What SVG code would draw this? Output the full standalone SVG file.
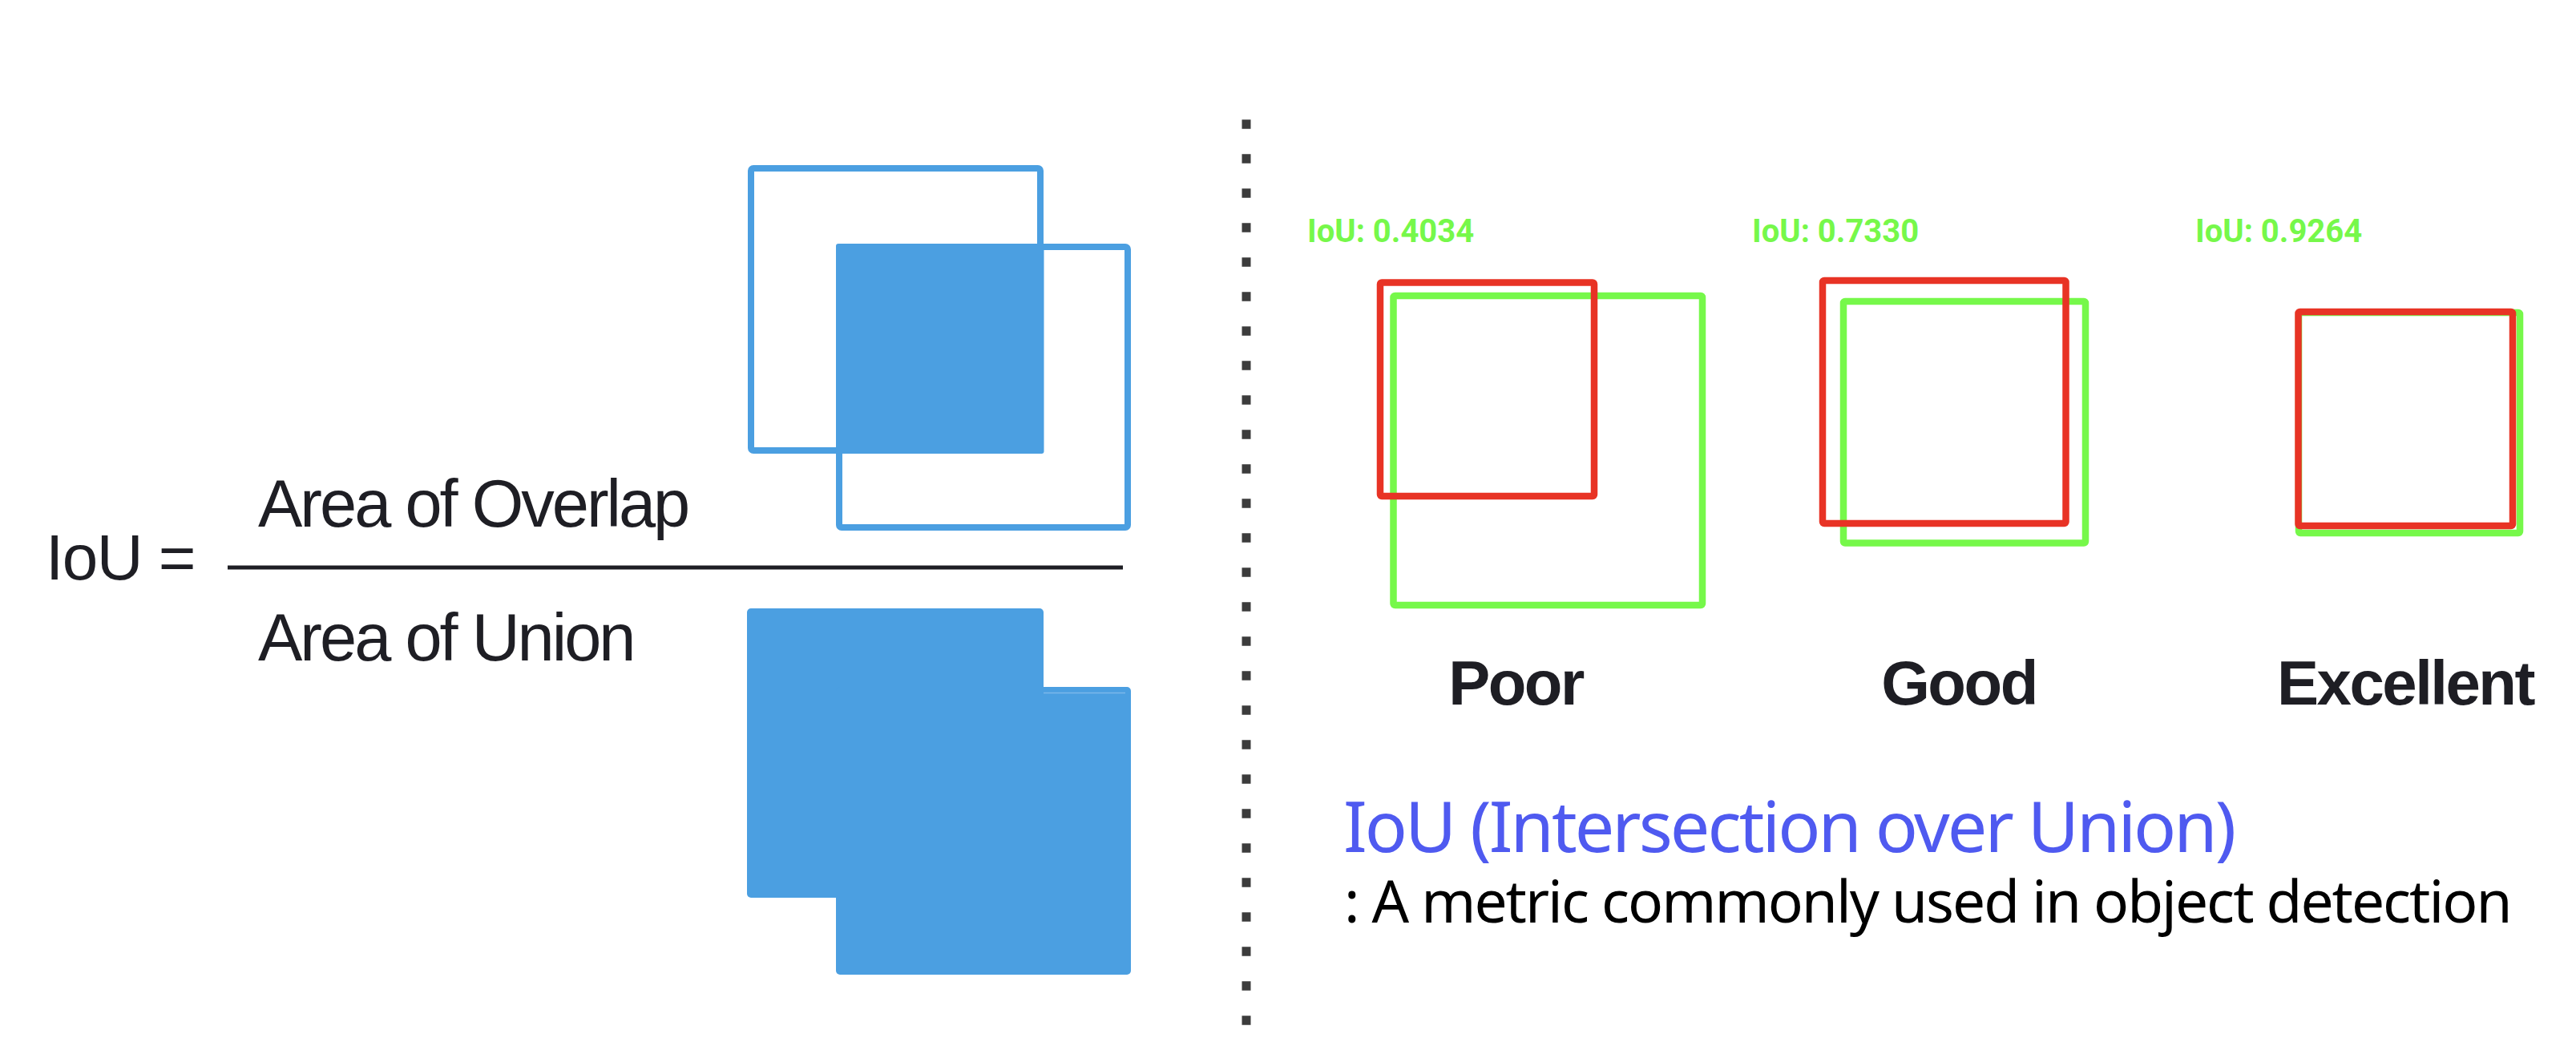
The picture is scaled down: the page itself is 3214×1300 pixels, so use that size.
<svg xmlns="http://www.w3.org/2000/svg" width="3214" height="1300" viewBox="0 0 3214 1300">
<style>
.blueOut{fill:none;stroke:#4b9fe1;stroke-width:8;stroke-linejoin:round}
.blueFill{fill:#4b9fe1}
.formula{font-family:"Liberation Sans",Arial,sans-serif;fill:#1e1e24}
.red{fill:none;stroke:#e83325;stroke-width:8.5;stroke-linejoin:round}
.green{fill:none;stroke:#76f84a;stroke-width:8.5;stroke-linejoin:round}
.iou{font-family:Roboto,"Liberation Sans",sans-serif;font-weight:bold;font-size:40px;fill:#76f84a}
.grade{font-family:"Liberation Sans",Arial,sans-serif;font-weight:bold;font-size:78px;fill:#1e1e24;text-anchor:middle;letter-spacing:-2.5px}
</style>
<rect width="3214" height="1300" fill="#ffffff"/>

<g id="formula">
  <text class="formula" x="57" y="723" font-size="80" letter-spacing="-1.5">IoU =</text>
  <text class="formula" x="322" y="657" font-size="83" letter-spacing="-3">Area of Overlap</text>
  <text class="formula" x="322" y="824" font-size="83" letter-spacing="-3">Area of Union</text>
  <line x1="284" y1="708" x2="1401" y2="708" stroke="#1e1e24" stroke-width="5"/>
</g>

<g id="overlap-icon">
  <rect class="blueOut" x="937" y="210" width="361" height="352" rx="3"/>
  <rect class="blueOut" x="1047" y="308" width="360" height="350" rx="3"/>
  <rect class="blueFill" x="1043" y="304" width="259.5" height="262" rx="3"/>
</g>

<g id="union-icon">
  <rect class="blueFill" x="932" y="759" width="370" height="361" rx="5"/>
  <rect class="blueFill" x="1043" y="857" width="368" height="359" rx="5"/>
  <line x1="1302" y1="864.5" x2="1404" y2="864.5" stroke="#7bb8ea" stroke-width="1.5"/>
</g>

<g id="connectors">
  <line x1="1555" y1="149.3" x2="1555" y2="1280" stroke="#3c3c3c" stroke-width="11" stroke-dasharray="11.4 31.6"/>
</g>

<g id="poor">
  <text class="iou" x="1631" y="302">IoU: 0.4034</text>
  <rect class="green" x="1738.5" y="369" width="385.5" height="386" rx="2"/>
  <rect class="red" x="1722" y="352.5" width="267" height="266.5" rx="2"/>
  <text class="grade" x="1891" y="879">Poor</text>
</g>

<g id="good">
  <text class="iou" x="2186" y="302">IoU: 0.7330</text>
  <rect class="green" x="2300" y="376" width="302" height="301.5" rx="2"/>
  <rect class="red" x="2274" y="350" width="303.5" height="303" rx="2"/>
  <text class="grade" x="2444" y="879">Good</text>
</g>

<g id="excellent">
  <text class="iou" x="2739" y="302">IoU: 0.9264</text>
  <rect class="green" x="2868" y="390" width="276" height="275" rx="2"/>
  <rect class="red" x="2867.5" y="389" width="267.5" height="267" rx="2"/>
  <text class="grade" x="3001" y="879">Excellent</text>
</g>

<g id="caption">
  <text x="1676" y="1063" font-family="'Noto Sans','Open Sans',sans-serif" font-size="88" letter-spacing="-3" fill="#4f5af0">IoU (Intersection over Union)</text>
  <text x="1677" y="1151" font-family="'Noto Sans','Open Sans',sans-serif" font-size="73" letter-spacing="-2" fill="#000000">: A metric commonly used in object detection</text>
</g>
</svg>
